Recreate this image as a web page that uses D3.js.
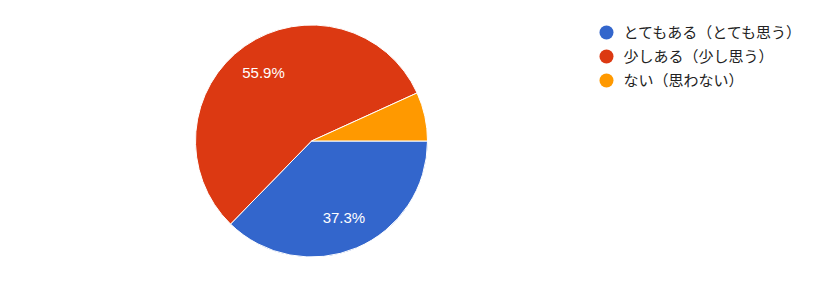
<!DOCTYPE html>
<html>
<head>
<meta charset="utf-8">
<script src="https://cdn.jsdelivr.net/npm/d3@7"></script>
<style>
  body { margin: 0; background: #fff; }
</style>
</head>
<body>
<script>
// 画布尺寸
var w = 838;
var h = 302;

// 数据
var categories = ["とてもある（とても思う）", "少しある（少し思う）", "ない（思わない）"];
var values = [37.3, 55.9, 6.8];
var colors = ["#3366cc", "#dc3912", "#ff9900"];

var cx = 311.5;
var cy = 141;
var radius = 116;

var svg = d3.select("body").append("svg")
    .attr("width", w)
    .attr("height", h);

// 饼图布局：从3点钟方向顺时针
var pie = d3.pie()
    .sort(null)
    .startAngle(Math.PI / 2)
    .endAngle(Math.PI / 2 + 2 * Math.PI)
    .value(function (d) { return d; });

var arc = d3.arc()
    .innerRadius(0)
    .outerRadius(radius);

var labelArc = d3.arc()
    .innerRadius(radius * 0.72)
    .outerRadius(radius * 0.72);

var g = svg.append("g")
    .attr("transform", "translate(" + cx + "," + cy + ")");

var arcs = pie(values);

g.selectAll("path")
    .data(arcs)
    .enter()
    .append("path")
    .attr("d", arc)
    .attr("fill", function (d, i) { return colors[i]; })
    .attr("stroke", "#ffffff")
    .attr("stroke-width", 1);

// 百分比标签（太小的扇区不显示）
g.selectAll("text")
    .data(arcs.filter(function (d) { return d.value > 10; }))
    .enter()
    .append("text")
    .attr("transform", function (d) { return "translate(" + labelArc.centroid(d) + ")"; })
    .attr("dy", "0.36em")
    .attr("text-anchor", "middle")
    .attr("font-family", "Arial, 'Liberation Sans', sans-serif")
    .attr("font-size", 15)
    .attr("fill", "#ffffff")
    .text(function (d) { return d.value.toFixed(1) + "%"; });

// 图例
var legend = svg.append("g")
    .attr("transform", "translate(606.5,32.5)");

var item = legend.selectAll("g")
    .data(categories)
    .enter()
    .append("g")
    .attr("transform", function (d, i) { return "translate(0," + i * 24 + ")"; });

item.append("circle")
    .attr("r", 7)
    .attr("fill", function (d, i) { return colors[i]; });

item.append("text")
    .attr("x", 17)
    .attr("dy", "0.36em")
    .attr("font-family", "'Noto Sans CJK JP', sans-serif")
    .attr("font-size", 15)
    .attr("fill", "#222222")
    .text(function (d) { return d; });
</script>
</body>
</html>
